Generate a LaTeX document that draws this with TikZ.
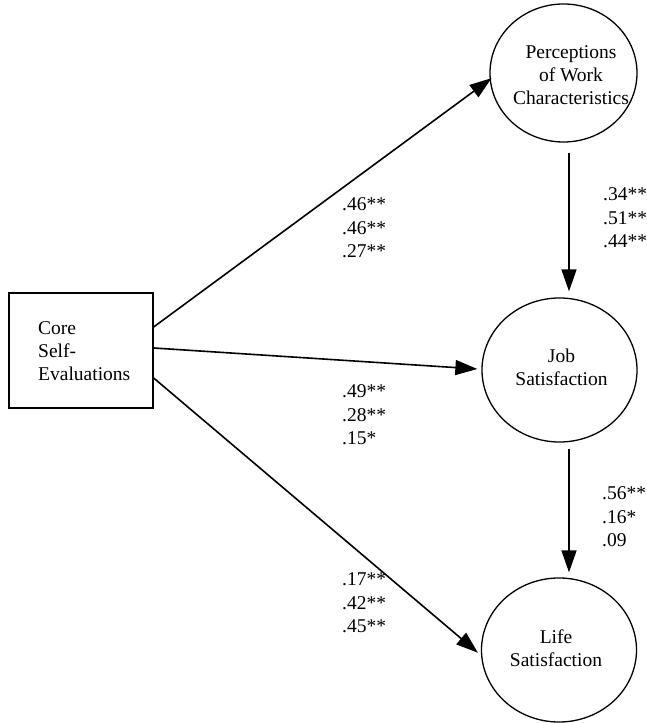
\documentclass[tikz,border=0pt]{standalone}
\usepackage{fontspec}
\setmainfont{Liberation Serif}
\usetikzlibrary{arrows.meta,shapes.geometric}
\begin{document}
\begin{tikzpicture}[x=1pt,y=1pt,
  every node/.style={font=\fontsize{19.5}{23}\selectfont},
  oval/.style={draw, ellipse, line width=1.3pt, inner sep=0pt},
  lbl/.style={anchor=west, align=left, inner sep=0pt, font=\fontsize{19.5}{23.5}\selectfont},
  txt/.style={align=center, inner sep=0pt},
  conn/.style={line width=1.6pt, -{Triangle[length=22pt,width=15pt]}}]
\useasboundingbox (0,0) rectangle (646,723);
% box
\node[draw, line width=1.3pt, minimum width=144pt, minimum height=115pt, inner sep=0pt] (cse) at (81,372.5) {};
\node[anchor=west, align=left, inner sep=0pt] (csetext) at (38,372) {Core\\Self-\\Evaluations};
% ovals
\node[oval, minimum width=147pt, minimum height=138pt] (perc) at (563.5,650) {};
\node[txt] (perctext) at (571,648) {Perceptions\\of Work\\Characteristics};
\node[oval, minimum width=155pt, minimum height=144pt] (job) at (559.5,353) {};
\node[txt] (jobtext) at (561.5,356) {Job\\Satisfaction};
\node[oval, minimum width=155pt, minimum height=144pt] (life) at (559,73) {};
\node[txt] (lifetext) at (556,75) {Life\\Satisfaction};
% connectors
\draw[conn] ([yshift=23.5pt]cse.east) -- ([xshift=2pt]perc.184);
\draw[conn] ([yshift=2.5pt]cse.east) -- ([xshift=-4pt,yshift=1pt]job.west);
\draw[conn] ([yshift=-27.5pt]cse.east) -- ([xshift=-3pt]life.182);
\draw[conn] ([xshift=5.5pt,yshift=-10pt]perc.south) -- ([xshift=9.5pt,yshift=6pt]job.north);
\draw[conn] ([xshift=9.5pt,yshift=-6pt]job.south) -- ([xshift=10pt,yshift=5pt]life.north);
% labels
\node[lbl] (l1) at (342,495) {.46**\\.46**\\.27**};
\node[lbl] (l2) at (603,505) {.34**\\.51**\\.44**};
\node[lbl] (l3) at (342,308) {.49**\\.28**\\.15*};
\node[lbl] (l4) at (602,206) {.56**\\.16*\\.09};
\node[lbl] (l5) at (342,120) {.17**\\.42**\\.45**};
\end{tikzpicture}
\end{document}
